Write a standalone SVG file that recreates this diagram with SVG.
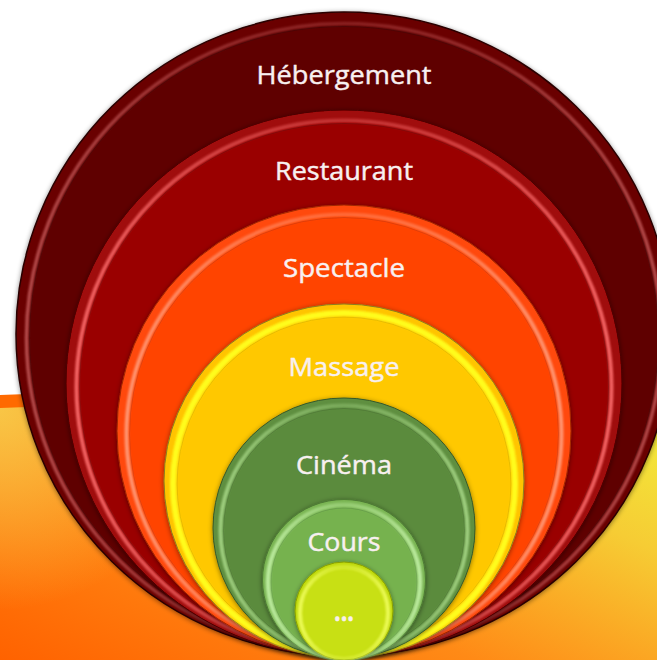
<svg xmlns="http://www.w3.org/2000/svg" width="657" height="660" viewBox="0 0 657 660">
  <defs>
    <linearGradient id="bandGrad" x1="0" y1="1" x2="1" y2="0.1">
      <stop offset="0" stop-color="#ff6200"/>
      <stop offset="0.4" stop-color="#ff8a16"/>
      <stop offset="0.75" stop-color="#f6cc34"/>
      <stop offset="1" stop-color="#f2ec3a"/>
    </linearGradient>
    <radialGradient id="bandGlow" gradientUnits="userSpaceOnUse" cx="0" cy="410" r="200">
      <stop offset="0" stop-color="#f8c848" stop-opacity="0.95"/>
      <stop offset="1" stop-color="#f8c848" stop-opacity="0"/>
    </radialGradient>
    <linearGradient id="sideGrad" x1="0" y1="0" x2="1" y2="0">
      <stop offset="0" stop-color="#fff"/>
      <stop offset="0.3" stop-color="#8a8a8a"/>
      <stop offset="0.5" stop-color="#606060"/>
      <stop offset="0.7" stop-color="#8a8a8a"/>
      <stop offset="1" stop-color="#fff"/>
    </linearGradient>
    <mask id="sideMask" maskContentUnits="objectBoundingBox" x="-0.1" y="-0.1" width="1.2" height="1.2">
      <rect x="-0.1" y="-0.1" width="1.2" height="1.2" fill="url(#sideGrad)"/>
    </mask>
    <filter id="sh" x="-10%" y="-10%" width="120%" height="120%">
      <feDropShadow dx="0" dy="1" stdDeviation="2.5" flood-color="#000" flood-opacity="0.45"/>
    </filter>
    <filter id="soft" x="-5%" y="-5%" width="110%" height="110%">
      <feGaussianBlur stdDeviation="1"/>
    </filter>
    <style>
      .lbl { font-family: "Open Sans", "Noto Sans", "DejaVu Sans", sans-serif; font-size: 26px; fill: #f8f0f0; stroke: #f8f0f0; stroke-width: 0.45px; text-anchor: middle; }
      .hl { fill: none; filter: url(#soft); mask: url(#sideMask); }
      .dk { fill: none; stroke-width: 1; stroke-opacity: 0.35; }
    </style>
  </defs>

  <g id="background">
    <rect x="0" y="0" width="657" height="660" fill="#ffffff"/>
    <path d="M0,396 Q300,384 657,390 L657,660 L0,660 Z" fill="url(#bandGrad)"/>
    <path d="M0,396 Q300,384 657,390 L657,660 L0,660 Z" fill="url(#bandGlow)"/>
    <path d="M0,395 Q300,383 657,389 L657,402 Q300,396 0,408 Z" fill="#ff6a00"/>
  </g>

  <g id="connectors"/>

  <g id="node-hebergement">
    <ellipse cx="344" cy="334" rx="328" ry="322" fill="#6a0606" stroke="#2a0000" stroke-width="1.5" filter="url(#sh)"/>
    <ellipse cx="344" cy="338" rx="316" ry="313" fill="#5f0000"/>
    <ellipse class="dk" cx="344" cy="338" rx="314.5" ry="311.5" stroke="#200000"/>
    <ellipse class="hl" cx="344" cy="338" rx="317.5" ry="314.5" stroke="#c05656" stroke-width="3.5"/>
    <text class="lbl" x="344" y="84" textLength="175" lengthAdjust="spacingAndGlyphs">Hébergement</text>
  </g>

  <g id="node-restaurant">
    <ellipse cx="344" cy="383.5" rx="278" ry="273.5" fill="#a00a0a" stroke="#4a0000" stroke-width="1" filter="url(#sh)"/>
    <ellipse cx="344" cy="387" rx="266" ry="265" fill="#9a0000"/>
    <ellipse class="dk" cx="344" cy="387" rx="264.5" ry="263.5" stroke="#400000"/>
    <ellipse class="hl" cx="344" cy="387" rx="267.5" ry="266.5" stroke="#ff7070" stroke-width="4"/>
    <text class="lbl" x="344" y="180" textLength="138" lengthAdjust="spacingAndGlyphs">Restaurant</text>
  </g>

  <g id="node-spectacle">
    <ellipse cx="344" cy="431" rx="227" ry="226" fill="#ff4a10" stroke="#a02800" stroke-width="1" filter="url(#sh)"/>
    <ellipse cx="344" cy="434" rx="216" ry="218" fill="#ff4400"/>
    <ellipse class="dk" cx="344" cy="434" rx="214.5" ry="216.5" stroke="#a02000"/>
    <ellipse class="hl" cx="344" cy="434" rx="217.5" ry="219.5" stroke="#ffa080" stroke-width="4"/>
    <text class="lbl" x="344" y="277" textLength="122" lengthAdjust="spacingAndGlyphs">Spectacle</text>
  </g>

  <g id="node-massage">
    <ellipse cx="344" cy="481" rx="180" ry="177" fill="#ffc400" stroke="#8a8020" stroke-width="1" filter="url(#sh)"/>
    <ellipse cx="344" cy="484" rx="169" ry="169" fill="#ffc800"/>
    <ellipse class="dk" cx="344" cy="484" rx="167" ry="167" stroke="#b08000"/>
    <ellipse cx="344" cy="484" rx="171" ry="171" fill="none" stroke="#ffff20" stroke-width="6" stroke-opacity="0.95" filter="url(#soft)"/>
    <text class="lbl" x="344" y="376" textLength="111" lengthAdjust="spacingAndGlyphs">Massage</text>
  </g>

  <g id="node-cinema">
    <ellipse cx="344" cy="528" rx="131" ry="130" fill="#5f8f40" stroke="#34592a" stroke-width="1" filter="url(#sh)"/>
    <ellipse cx="344" cy="530.5" rx="122" ry="123.5" fill="#5b8b3d"/>
    <ellipse class="dk" cx="344" cy="530.5" rx="120.5" ry="122" stroke="#2a4a1a"/>
    <ellipse class="hl" cx="344" cy="530.5" rx="123.5" ry="125" stroke="#a8d888" stroke-width="4"/>
    <text class="lbl" x="344" y="474" textLength="96" lengthAdjust="spacingAndGlyphs">Cinéma</text>
  </g>

  <g id="node-cours">
    <ellipse cx="344" cy="580" rx="81.5" ry="80.5" fill="#7ab552" stroke="#4d7a34" stroke-width="1" filter="url(#sh)"/>
    <ellipse cx="344" cy="582" rx="74.5" ry="75.5" fill="#76b24e"/>
    <ellipse class="dk" cx="344" cy="582" rx="73" ry="74" stroke="#3a6a2a"/>
    <ellipse class="hl" cx="344" cy="582" rx="76" ry="77" stroke="#c4f2a8" stroke-width="4.5"/>
    <text class="lbl" x="344" y="551" textLength="73" lengthAdjust="spacingAndGlyphs">Cours</text>
  </g>

  <g id="node-more">
    <ellipse cx="344" cy="611" rx="49" ry="49" fill="#c0da10" stroke="#8aa000" stroke-width="1" filter="url(#sh)"/>
    <ellipse cx="344" cy="613" rx="43" ry="45" fill="#c8e014"/>
    <ellipse class="hl" cx="344" cy="613" rx="44" ry="46" stroke="#f2ff60" stroke-width="4"/>
    <text class="lbl" x="344" y="621" font-weight="bold" textLength="20" lengthAdjust="spacingAndGlyphs">...</text>
  </g>
</svg>
